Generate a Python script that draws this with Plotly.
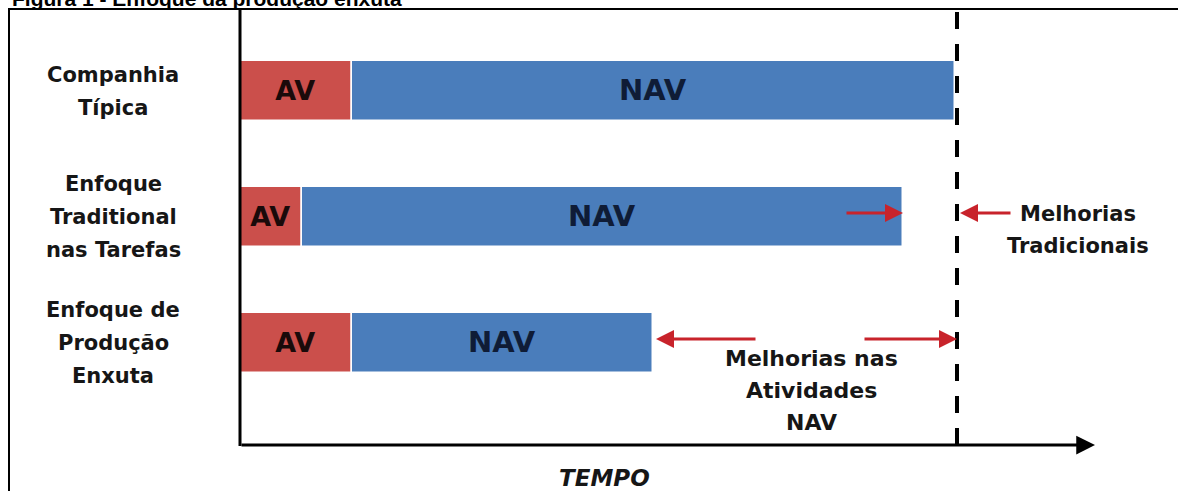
import plotly.graph_objects as go

# ---- data ----
categories = ["Companhia\nTípica", "Enfoque\nTraditional\nnas Tarefas", "Enfoque de\nProdução\nEnxuta"]
av_values = [11.2, 6.2, 11.2]
nav_values = [60.3, 60.1, 30.1]
horizon = 71.7          # dashed reference line (time of typical company)
axis_end = 85.5
title_text = "Figura 1 - Enfoque da produção enxuta"
x_label = "TEMPO"
trad_label = ["Melhorias", "Tradicionais"]
lean_label = ["Melhorias nas", "Atividades", "NAV"]

RED = "#CB4F4B"
BLUE = "#4A7DBB"
ARROW = "#C8232B"
FONT = "DejaVu Sans"
TXT = "#161616"

W, H = 1178, 491
PX_X = 10.0   # px per x unit
X0_PX = 240
PX_Y = 126.0
Y0_PX = 91

def xd(px):
    return (px - X0_PX) / PX_X

def yd(px):
    return (px - Y0_PX) / PX_Y

rows = list(range(len(categories)))

fig = go.Figure()
fig.add_trace(go.Bar(
    y=rows, x=av_values, base=[0] * len(rows), orientation="h",
    marker=dict(color=RED, line=dict(color="white", width=1.5)),
    width=0.48, text=["AV"] * len(rows), textposition="inside",
    insidetextanchor="middle",
    textfont=dict(family=FONT, size=27, color="#1a0a0a", weight="bold"),
    hoverinfo="skip", showlegend=False,
))
fig.add_trace(go.Bar(
    y=rows, x=nav_values, base=av_values, orientation="h",
    marker=dict(color=BLUE, line=dict(color="white", width=1.5)),
    width=0.48, text=["NAV"] * len(rows), textposition="inside",
    insidetextanchor="middle",
    textfont=dict(family=FONT, size=29, color="#0f1c36", weight="bold"),
    hoverinfo="skip", showlegend=False,
))

ann = []
# category labels, one line at a time
for i, cat in enumerate(categories):
    lines = cat.split("\n")
    n = len(lines)
    for j, ln in enumerate(lines):
        ann.append(dict(x=xd(113), y=i + (j - (n - 1) / 2) * 33 / PX_Y, xref="x", yref="y",
                        text=ln, showarrow=False,
                        font=dict(family=FONT, size=21, color=TXT, weight="bold")))

# axes arrow (horizontal)
ann.append(dict(x=axis_end, y=yd(445), ax=0, ay=yd(445), xref="x", yref="y", axref="x", ayref="y",
                showarrow=True, arrowhead=2, arrowsize=1.25, arrowwidth=3, arrowcolor="black", text=""))
ann.append(dict(x=xd(604), y=yd(478), xref="x", yref="y", text="<i>" + x_label + "</i>", showarrow=False,
                font=dict(family=FONT, size=23, color=TXT, weight="bold")))

# improvement arrows
y2 = 1 - 4 / PX_Y
y3 = 2 - 4 / PX_Y
end2 = av_values[1] + nav_values[1]
end3 = av_values[2] + nav_values[2]
arrows = [
    (end2, y2, xd(845)),
    (horizon + 0.3, y2, xd(1012)),
    (end3 + 0.3, y3, xd(757)),
    (horizon, y3, xd(863)),
]
for xh, yy, xt in arrows:
    ann.append(dict(x=xh, y=yy, ax=xt, ay=yy, xref="x", yref="y", axref="x", ayref="y",
                    showarrow=True, arrowhead=2, arrowsize=1.2, arrowwidth=3, arrowcolor=ARROW, text=""))

for j, ln in enumerate(trad_label):
    ann.append(dict(x=xd(1078), y=yd(214 + 32 * j), xref="x", yref="y", text=ln, showarrow=False,
                    font=dict(family=FONT, size=21, color=TXT, weight="bold")))
for j, ln in enumerate(lean_label):
    ann.append(dict(x=xd(811), y=yd(358 + 32 * j), xref="x", yref="y", text=ln, showarrow=False,
                    font=dict(family=FONT, size=22, color=TXT, weight="bold")))

# cut-off title at the top (only its lower part shows, as in the source)
ann.append(dict(x=10 / W, y=1 - 12 / H, xref="paper", yref="paper", xanchor="left", yanchor="bottom",
                text=title_text, showarrow=False,
                font=dict(family="Liberation Sans", size=21, color="black", weight="bold")))

shapes = [
    # outer frame
    dict(type="rect", xref="paper", yref="paper", x0=9 / W, x1=1.02, y0=-0.02, y1=1 - 9 / H,
         line=dict(color="black", width=2), fillcolor="white", layer="below"),
    # vertical axis
    dict(type="line", xref="x", yref="y", x0=0, x1=0, y0=yd(10), y1=yd(446),
         line=dict(color="black", width=3)),
    # dashed horizon line
    dict(type="line", xref="x", yref="y", x0=horizon, x1=horizon, y0=yd(12), y1=yd(445),
         line=dict(color="black", width=4, dash="17px,15px")),
]

fig.update_layout(
    width=W, height=H, margin=dict(l=0, r=0, t=0, b=0),
    paper_bgcolor="white", plot_bgcolor="white",
    barmode="overlay", bargap=0,
    xaxis=dict(range=[xd(0), xd(W)], visible=False, fixedrange=True),
    yaxis=dict(range=[yd(H), yd(0)], visible=False, fixedrange=True),
    annotations=ann, shapes=shapes,
    uniformtext=dict(mode=False),
)
fig.write_html("out.html")
